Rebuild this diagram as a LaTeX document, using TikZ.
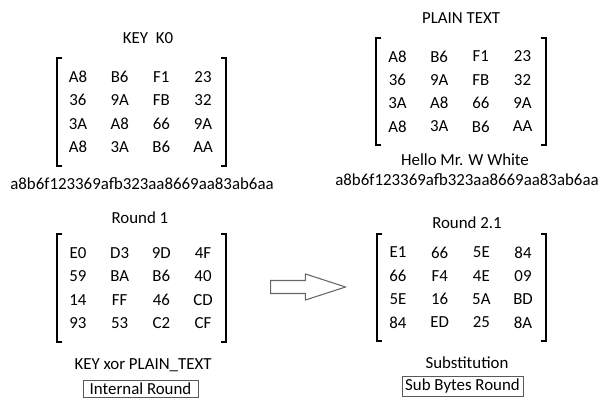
\documentclass[tikz,border=0pt]{standalone}
\usepackage{fontspec}
\setmainfont{Carlito}
\usetikzlibrary{matrix,positioning,shapes.arrows}
\tikzset{
    hex-grid/.style={
        matrix of nodes,
        inner sep=0pt,
        nodes={
            minimum width=0.834cm,
            minimum height=0.466cm,
            inner sep=0pt,
            anchor=center
        },
        row sep=0pt,
        column sep=0pt
    },
    grid-bracket/.style={
        draw=black,
        line width=1.1pt
    },
    round-box/.style={
        draw=black!65,
        line width=0.5pt,
        inner sep=0pt
    },
    flow-arrow/.style={
        single arrow,
        draw=black!60,
        line width=0.6pt,
        inner sep=0.12cm,
        minimum height=1.5cm,
        single arrow head extend=0.13cm,
        single arrow tip angle=36,
        single arrow head indent=0pt
    }
}

\begin{document}
\begin{tikzpicture}[x=0.02cm,y=-0.02cm,font=\fontsize{9.6}{11.5}\selectfont]
       \useasboundingbox (0,0) rectangle (601,398);

       % the four byte grids
       \matrix[hex-grid] (key) at (140.5,112) {
           A8 & B6 & F1 & 23 \\
           36 & 9A & FB & 32 \\
           3A & A8 & 66 & 9A \\
           A8 & 3A & B6 & AA \\
       };
       \matrix[hex-grid] (plain) at (460,91.5) {
           A8 & B6 & F1 & 23 \\
           36 & 9A & FB & 32 \\
           3A & A8 & 66 & 9A \\
           A8 & 3A & B6 & AA \\
       };
       \matrix[hex-grid] (round) at (140.5,288) {
           E0 & D3 & 9D & 4F \\
           59 & BA & B6 & 40 \\
           14 & FF & 46 & CD \\
           93 & 53 & C2 & CF \\
       };
       \matrix[hex-grid] (subst) at (460.5,287.5) {
           E1 & 66 & 5E & 84 \\
           66 & F4 & 4E & 09 \\
           5E & 16 & 5A & BD \\
           84 & ED & 25 & 8A \\
       };

       \foreach \m in {key,plain,round,subst} {
           \draw[grid-bracket] ([shift={(5,-7)}]\m.north west) -- ++(-5,0)
               -- ([shift={(0,7)}]\m.south west) -- ++(5,0);
           \draw[grid-bracket] ([shift={(-3,-7)}]\m.north east) -- ++(5,0)
               -- ([shift={(2,7)}]\m.south east) -- ++(-5,0);
       }

       % titles and captions
       \node (keytitle) at (148,38) {KEY\ \ K0};
       \node (keyhex) at (142,184) {a8b6f123369afb323aa8669aa83ab6aa};
       \node (plaintitle) at (461,18) {PLAIN TEXT};
       \node (hello) at (465,160) {Hello Mr. W White};
       \node (plainhex) at (467,180) {a8b6f123369afb323aa8669aa83ab6aa};
       \node (roundtitle) at (140,218) {Round 1};
       \node (substtitle) at (467,223) {Round 2.1};
       \node (xorcap) at (143,365) {KEY xor PLAIN\_TEXT};
       \node (subcap) at (467,363) {Substitution};
       \node[round-box,minimum width=2.3cm,minimum height=0.34cm] (internal) at (140.5,389) {Internal Round};
       \node[round-box,minimum width=2.42cm,minimum height=0.4cm] (subbytes) at (462.5,386) {Sub Bytes Round};

       \node[flow-arrow,anchor=tail] (flow) at (270,287) {};
   \end{tikzpicture}
\end{document}
